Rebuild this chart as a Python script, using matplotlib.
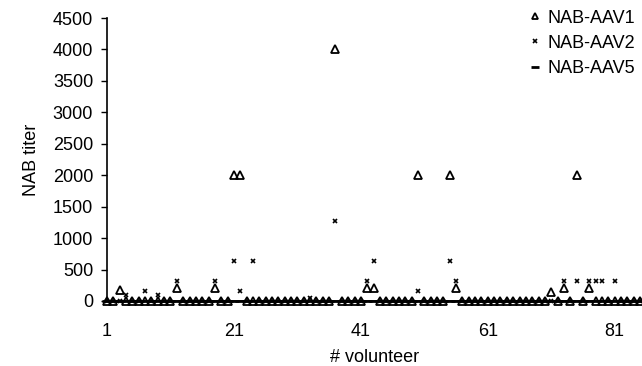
import numpy as np
import matplotlib.pyplot as plt

plt.rcParams['font.family'] = ['Liberation Sans', 'DejaVu Sans']

n_volunteers = 85
volunteers = np.arange(1, n_volunteers + 1)

# non-zero titers: {volunteer: titer}
aav1_hits = {3: 180, 12: 200, 18: 200, 21: 2000, 22: 2000, 37: 4000, 42: 200,
             43: 200, 50: 2000, 55: 2000, 56: 200, 71: 150, 73: 200, 75: 2000,
             77: 200}
aav2_hits = {4: 100, 7: 160, 9: 100, 12: 320, 18: 320, 21: 630, 22: 160,
             24: 630, 33: 50, 37: 1280, 42: 320, 43: 630, 50: 160, 55: 630,
             56: 320, 73: 320, 75: 320, 77: 320, 78: 320, 79: 320, 81: 320}
aav5_hits = {}

aav1 = np.array([aav1_hits.get(v, 0) for v in volunteers])
aav2 = np.array([aav2_hits.get(v, 0) for v in volunteers])
aav5 = np.array([aav5_hits.get(v, 0) for v in volunteers])

fig = plt.figure(figsize=(6.42, 3.66), dpi=100)
ax = fig.add_axes([0.1667, 0.1776, 0.8333, 0.7732])

ax.plot(volunteers, aav1, linestyle='none', marker='^', markersize=5.2,
        markerfacecolor='none', markeredgecolor='black', markeredgewidth=1.3,
        clip_on=False, label='NAB-AAV1')
ax.plot(volunteers, aav2, linestyle='none', marker='x', markersize=3.5,
        color='black', markeredgewidth=1.2, clip_on=False, label='NAB-AAV2')
ax.plot(volunteers, aav5, linestyle='none', marker='_', markersize=6.5,
        color='black', markeredgewidth=2, clip_on=False, label='NAB-AAV5')

ax.set_xlim(1, 85.3)
ax.set_ylim(0, 4500)
ax.set_xticks([1, 21, 41, 61, 81])
ax.set_yticks(np.arange(0, 4501, 500))
ax.tick_params(axis='x', length=0, pad=16, labelsize=13)
ax.tick_params(axis='y', length=4, width=1, pad=6, labelsize=13, direction='out')

ax.spines['top'].set_visible(False)
ax.spines['right'].set_visible(False)
ax.spines['left'].set_linewidth(1.2)
ax.spines['bottom'].set_linewidth(1.2)

ax.set_xlabel('# volunteer', fontsize=13, labelpad=6)
ax.set_ylabel('NAB titer', fontsize=13, labelpad=9)

leg = ax.legend(loc='upper right', frameon=False, fontsize=13, handlelength=0.5,
                handletextpad=0.4, labelspacing=0.45, borderaxespad=0.0,
                bbox_to_anchor=(1.0, 1.055), markerscale=0.8)

fig.savefig('out.png', dpi=100)
